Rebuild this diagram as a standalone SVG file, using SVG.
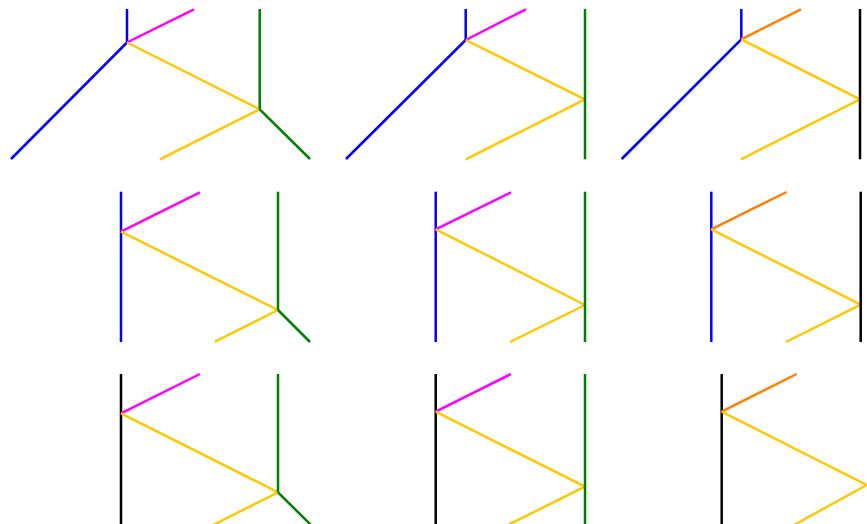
<svg xmlns="http://www.w3.org/2000/svg" width="867" height="524" viewBox="0 0 867 524">
<style>
line{stroke-width:2.5;stroke-linecap:butt;fill:none}
.b{stroke:#0000ff}.m{stroke:#ff00ff}.y{stroke:#ffc800}.g{stroke:#008000}.o{stroke:#ff8000}.k{stroke:#000000}
</style>
<rect width="867" height="524" fill="#ffffff"/>
<g id="panel1">
<line class="b" x1="127" y1="9" x2="127" y2="42.5"/>
<line class="b" x1="127" y1="42.5" x2="11" y2="159"/>
<line class="m" x1="127" y1="42.5" x2="194" y2="9.3"/>
<line class="y" x1="127" y1="42.5" x2="259.7" y2="109.3"/>
<line class="y" x1="259.7" y1="109.3" x2="160" y2="159.3"/>
<line class="g" x1="259.7" y1="9" x2="259.7" y2="109.3"/>
<line class="g" x1="259.7" y1="109.3" x2="310" y2="159"/>
</g>
<g id="panel2">
<line class="b" x1="465.7" y1="9" x2="465.7" y2="40"/>
<line class="b" x1="465.7" y1="40" x2="346" y2="159"/>
<line class="m" x1="465.7" y1="40" x2="526" y2="9.3"/>
<line class="y" x1="465.7" y1="40" x2="585" y2="99.3"/>
<line class="y" x1="585" y1="99.3" x2="465.7" y2="159.3"/>
<line class="g" x1="585" y1="9" x2="585" y2="159.3"/>
</g>
<g id="panel3">
<line class="b" x1="741.3" y1="9" x2="741.3" y2="39.3"/>
<line class="b" x1="741.3" y1="39.3" x2="621.7" y2="159"/>
<line class="o" x1="741.3" y1="39.3" x2="801" y2="9.3"/>
<line class="y" x1="741.3" y1="39.3" x2="860" y2="99.3"/>
<line class="y" x1="860" y1="99.3" x2="741" y2="159.3"/>
<line class="k" x1="860" y1="9" x2="860" y2="159.3"/>
</g>
<g id="panel4">
<line class="b" x1="121" y1="191.7" x2="121" y2="342"/>
<line class="m" x1="121" y1="231.7" x2="200" y2="192.3"/>
<line class="y" x1="121" y1="231.7" x2="278" y2="310"/>
<line class="y" x1="278" y1="310" x2="215" y2="341.7"/>
<line class="g" x1="278" y1="191.7" x2="278" y2="310"/>
<line class="g" x1="278" y1="310" x2="310" y2="342"/>
</g>
<g id="panel5">
<line class="b" x1="435.7" y1="191.7" x2="435.7" y2="342"/>
<line class="m" x1="435.7" y1="229.3" x2="511" y2="192.3"/>
<line class="y" x1="435.7" y1="229.3" x2="585" y2="305"/>
<line class="y" x1="585" y1="305" x2="510" y2="342"/>
<line class="g" x1="585" y1="191.7" x2="585" y2="342"/>
</g>
<g id="panel6">
<line class="b" x1="711.3" y1="191.7" x2="711.3" y2="342"/>
<line class="o" x1="711.3" y1="229.3" x2="786.7" y2="192"/>
<line class="y" x1="711.3" y1="229.3" x2="860.7" y2="304.7"/>
<line class="y" x1="860.7" y1="304.7" x2="786" y2="342"/>
<line class="k" x1="860.7" y1="191.7" x2="860.7" y2="342"/>
</g>
<g id="panel7">
<line class="k" x1="121" y1="374" x2="121" y2="526"/>
<line class="m" x1="121" y1="413.3" x2="200" y2="374"/>
<line class="y" x1="121" y1="413.3" x2="278" y2="492.3"/>
<line class="y" x1="278" y1="492.3" x2="213" y2="525"/>
<line class="g" x1="278" y1="374" x2="278" y2="492.3"/>
<line class="g" x1="278" y1="492.3" x2="312" y2="526"/>
</g>
<g id="panel8">
<line class="k" x1="435.7" y1="374" x2="435.7" y2="526"/>
<line class="m" x1="435.7" y1="411.7" x2="511" y2="374"/>
<line class="y" x1="435.7" y1="411.7" x2="585" y2="486.7"/>
<line class="y" x1="585" y1="486.7" x2="508" y2="525"/>
<line class="g" x1="585" y1="374" x2="585" y2="526"/>
</g>
<g id="panel9">
<line class="k" x1="721.7" y1="374" x2="721.7" y2="526"/>
<line class="o" x1="721.7" y1="411.7" x2="796.7" y2="374"/>
<line class="y" x1="721.7" y1="411.7" x2="866.7" y2="485"/>
<line class="y" x1="866.7" y1="485" x2="794" y2="525"/>
</g>
</svg>
